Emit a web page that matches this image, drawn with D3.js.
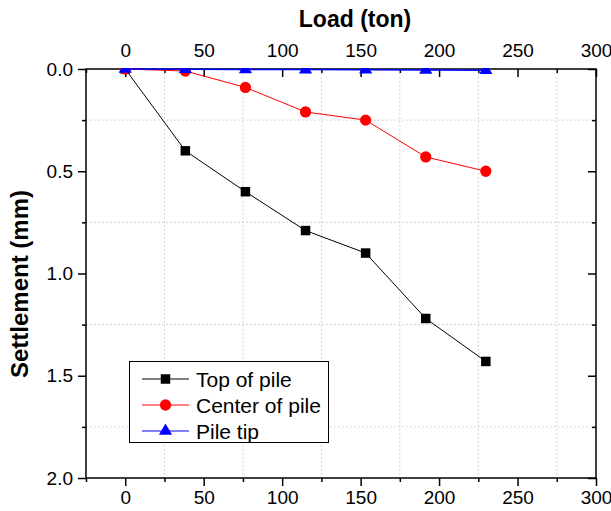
<!DOCTYPE html>
<html><head><meta charset="utf-8">
<script src="https://cdn.jsdelivr.net/npm/d3@7"></script>
<style>body{margin:0;background:#fff;} text{font-family:Arial,"Liberation Sans",sans-serif;}</style>
</head><body>
<svg id="c" width="611" height="511"></svg>
<script>
const loads = [0, 38.3, 76.6, 114.9, 153.2, 191.5, 229.8];
const topOfPile = [0, 0.40, 0.60, 0.79, 0.90, 1.22, 1.43];
const centerOfPile = [0, 0.01, 0.09, 0.21, 0.25, 0.43, 0.50];
const pileTip = [0, 0.001, 0.002, 0.003, 0.004, 0.005, 0.006];
const seriesNames = ["Top of pile", "Center of pile", "Pile tip"];
const xTicks = [0, 50, 100, 150, 200, 250, 300];
const xMinor = [-25, 25, 75, 125, 175, 225, 275];
const yTicks = [0, 0.5, 1.0, 1.5, 2.0];
const yMinor = [0.25, 0.75, 1.25, 1.75];

const svg = d3.select("#c");
const L = 86, R = 596, T = 69, B = 478;
const x = d3.scaleLinear().domain([-25, 300]).range([L, R]);
const y = d3.scaleLinear().domain([0, 2]).range([T, B]);

svg.append("defs").append("clipPath").attr("id", "plotclip")
  .append("rect").attr("x", L).attr("y", T - 1).attr("width", R - L).attr("height", B - T + 1);

// grid
svg.append("g").selectAll("line").data(xMinor.filter(d => d > -25)).join("line")
  .attr("x1", d => x(d)).attr("x2", d => x(d)).attr("y1", T).attr("y2", B)
  .attr("stroke", "#c8c8c8").attr("stroke-width", 1).attr("stroke-dasharray", "1.5,2.5");
svg.append("g").selectAll("line").data(yMinor).join("line")
  .attr("y1", d => y(d)).attr("y2", d => y(d)).attr("x1", L).attr("x2", R)
  .attr("stroke", "#c8c8c8").attr("stroke-width", 1).attr("stroke-dasharray", "1.5,2.5");

function styleAxis(g) {
  g.select(".domain").remove();
  g.selectAll(".tick line").attr("stroke", "#000").attr("stroke-width", 1.5);
  g.selectAll(".tick text").attr("font-size", 19).attr("fill", "#000")
    .attr("font-family", "Arial, 'Liberation Sans', sans-serif");
}
// bottom (outward)
svg.append("g").attr("transform", `translate(0,${B})`)
  .call(d3.axisBottom(x).tickValues(xTicks).tickSize(8).tickPadding(5).tickFormat(d3.format("d"))).call(styleAxis);
svg.append("g").attr("transform", `translate(0,${B})`)
  .call(d3.axisBottom(x).tickValues(xMinor).tickSize(4).tickFormat("")).call(styleAxis);
// top (inward ticks, labels above)
svg.append("g").attr("transform", `translate(0,${T})`)
  .call(d3.axisTop(x).tickValues(xTicks).tickSize(0).tickPadding(12).tickFormat(d3.format("d"))).call(styleAxis);
svg.append("g").attr("transform", `translate(0,${T})`)
  .call(d3.axisBottom(x).tickValues(xTicks).tickSize(8).tickFormat("")).call(styleAxis);
svg.append("g").attr("transform", `translate(0,${T})`)
  .call(d3.axisBottom(x).tickValues(xMinor).tickSize(4).tickFormat("")).call(styleAxis);
// left (outward)
svg.append("g").attr("transform", `translate(${L},0)`)
  .call(d3.axisLeft(y).tickValues(yTicks).tickSize(8).tickPadding(5).tickFormat(d3.format(".1f"))).call(styleAxis);
svg.append("g").attr("transform", `translate(${L},0)`)
  .call(d3.axisLeft(y).tickValues(yMinor).tickSize(4).tickFormat("")).call(styleAxis);
// right (inward)
svg.append("g").attr("transform", `translate(${R},0)`)
  .call(d3.axisLeft(y).tickValues(yTicks).tickSize(8).tickFormat("")).call(styleAxis);
svg.append("g").attr("transform", `translate(${R},0)`)
  .call(d3.axisLeft(y).tickValues(yMinor).tickSize(4).tickFormat("")).call(styleAxis);

// frame
svg.append("rect").attr("x", L).attr("y", T).attr("width", R - L).attr("height", B - T)
  .attr("fill", "none").attr("stroke", "#000").attr("stroke-width", 1.5);

// series
const series = [
  {name: seriesNames[0], vals: topOfPile, color: "#000000", sym: d3.symbolSquare, size: 90},
  {name: seriesNames[1], vals: centerOfPile, color: "#ff0000", sym: d3.symbolCircle, size: 100},
  {name: seriesNames[2], vals: pileTip, color: "#0000ff", sym: d3.symbolTriangle, size: 75}
];
const plot = svg.append("g").attr("clip-path", "url(#plotclip)");
const line = d3.line().x(d => x(d[0])).y(d => y(d[1]));
series.forEach(s => {
  const pts = loads.map((l, i) => [l, s.vals[i]]);
  plot.append("path").datum(pts).attr("d", line).attr("fill", "none")
    .attr("stroke", s.color).attr("stroke-width", s.color === "#0000ff" ? 1.5 : 1);
  plot.append("g").selectAll("path").data(pts).join("path")
    .attr("transform", d => `translate(${x(d[0])},${y(d[1])})`)
    .attr("d", d3.symbol().type(s.sym).size(s.size)).attr("fill", s.color);
});

// legend
const lg = svg.append("g");
lg.append("rect").attr("x", 129.5).attr("y", 361.5).attr("width", 199).attr("height", 81)
  .attr("fill", "#fff").attr("stroke", "#000").attr("stroke-width", 1);
series.forEach((s, i) => {
  const cy = 379 + i * 26;
  lg.append("line").attr("x1", 142).attr("x2", 189).attr("y1", cy).attr("y2", cy)
    .attr("stroke", s.color).attr("stroke-width", 1);
  lg.append("path").attr("transform", `translate(165.5,${cy})`)
    .attr("d", d3.symbol().type(s.sym).size(s.size)).attr("fill", s.color);
  lg.append("text").attr("x", 196).attr("y", cy + 7.5).attr("font-size", 21).text(s.name);
});

// titles
svg.append("text").attr("x", 355).attr("y", 27).attr("text-anchor", "middle")
  .attr("font-size", 23).attr("font-weight", "bold").text("Load (ton)");
svg.append("text").attr("transform", "translate(28,284) rotate(-90)").attr("text-anchor", "middle")
  .attr("font-size", 24).attr("font-weight", "bold").text("Settlement (mm)");
</script>
</body></html>
